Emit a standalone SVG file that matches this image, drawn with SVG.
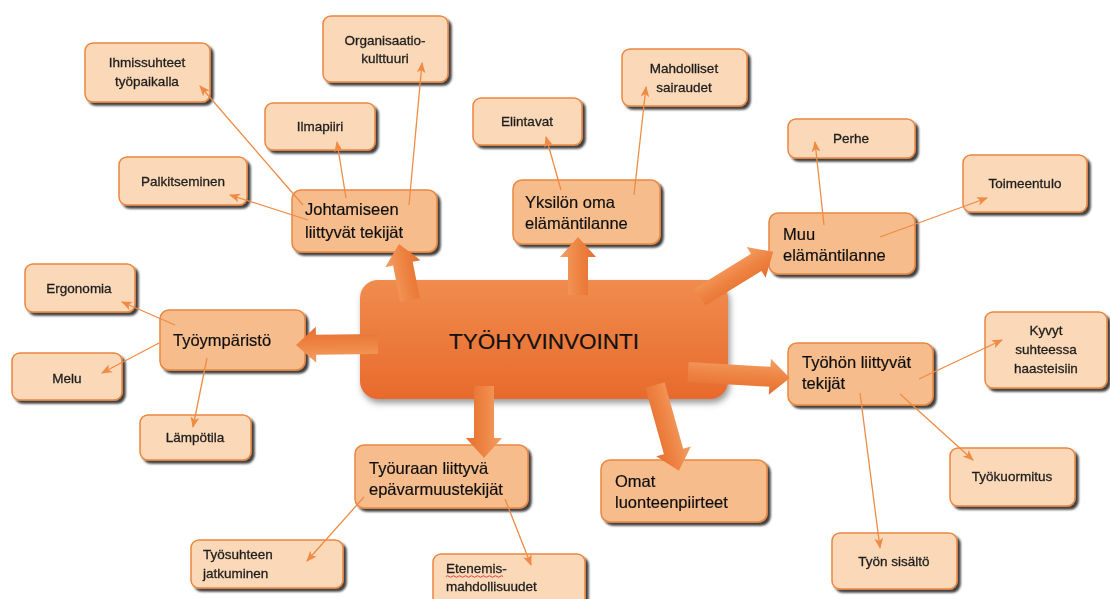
<svg xmlns="http://www.w3.org/2000/svg" width="1110" height="599" viewBox="0 0 1110 599">
<defs>
  <style>
    .sm rect{fill:#fbd8b7;stroke:#ea8741;stroke-width:1.5}
    .md rect{fill:#f7bc8b;stroke:#ea8741;stroke-width:1.5}
    .sm text{font-family:"Liberation Sans",Arial,sans-serif;font-size:13.5px;fill:#1e1e1e;stroke:#1e1e1e;stroke-width:0.3;text-anchor:middle}
    .sm text.l{text-anchor:start}
    .md text{font-family:"Liberation Sans",Arial,sans-serif;font-size:16.5px;fill:#111;stroke:#111;stroke-width:0.2}
    .thin{stroke:#ef8b45;stroke-width:1.3;fill:none;marker-end:url(#ah)}
    .big{fill:url(#ag)}
  </style>
  <filter id="sh" x="-10%" y="-10%" width="125%" height="130%">
    <feDropShadow dx="3" dy="3" stdDeviation="1.3" flood-color="#000" flood-opacity="0.75"/>
  </filter>
  <filter id="shc" x="-10%" y="-10%" width="125%" height="130%">
    <feDropShadow dx="2" dy="4" stdDeviation="3" flood-color="#555" flood-opacity="0.6"/>
  </filter>
  <linearGradient id="cg" x1="0" y1="0" x2="0" y2="1">
    <stop offset="0" stop-color="#f08c4e"/>
    <stop offset="1" stop-color="#e86a2c"/>
  </linearGradient>
  <linearGradient id="ag" x1="0" y1="0" x2="0" y2="1">
    <stop offset="0" stop-color="#f3a066"/>
    <stop offset="0.5" stop-color="#ee8443"/>
    <stop offset="1" stop-color="#e66f2f"/>
  </linearGradient>
  <marker id="ah" viewBox="0 0 10 8" refX="9" refY="4" markerWidth="11" markerHeight="9" markerUnits="userSpaceOnUse" orient="auto">
    <path d="M0,0 L10,4 L0,8 L2.5,4 z" fill="#ef8b45"/>
  </marker>
</defs>
<rect width="1110" height="599" fill="#fff"/>

<g id="center">
  <rect x="360" y="280" width="368" height="119" rx="18" fill="url(#cg)" filter="url(#shc)"/>
  <text x="544" y="349" font-family="Liberation Sans,Arial,sans-serif" font-size="22.5" text-anchor="middle" fill="#111" stroke="#111" stroke-width="0.2">TYÖHYVINVOINTI</text>
</g>

<g id="n-johtamiseen" class="md" filter="url(#sh)">
  <rect x="292" y="190" width="145" height="62" rx="9"/>
  <text x="305" y="215">Johtamiseen</text>
  <text x="305" y="238">liittyvät tekijät</text>
</g>
<g id="n-yksilon" class="md" filter="url(#sh)">
  <rect x="513" y="180" width="147" height="64" rx="9"/>
  <text x="525" y="208">Yksilön oma</text>
  <text x="525" y="229">elämäntilanne</text>
</g>
<g id="n-muu" class="md" filter="url(#sh)">
  <rect x="769" y="213" width="146" height="61" rx="9"/>
  <text x="783" y="240">Muu</text>
  <text x="783" y="261">elämäntilanne</text>
</g>
<g id="n-tyohon" class="md" filter="url(#sh)">
  <rect x="788" y="343" width="145" height="62" rx="9"/>
  <text x="802" y="368">Työhön liittyvät</text>
  <text x="802" y="389">tekijät</text>
</g>
<g id="n-omat" class="md" filter="url(#sh)">
  <rect x="601" y="460" width="166" height="62" rx="9"/>
  <text x="615" y="487">Omat</text>
  <text x="615" y="508">luonteenpiirteet</text>
</g>
<g id="n-tyouraan" class="md" filter="url(#sh)">
  <rect x="355" y="445" width="173" height="63" rx="9"/>
  <text x="369" y="474">Työuraan liittyvä</text>
  <text x="369" y="495">epävarmuustekijät</text>
</g>
<g id="n-tyoymparisto" class="md" filter="url(#sh)">
  <rect x="160" y="310" width="145" height="60" rx="9"/>
  <text x="173" y="346">Työympäristö</text>
</g>

<g id="n-ihmissuhteet" class="sm" filter="url(#sh)">
  <rect x="85" y="43" width="125" height="59" rx="8"/>
  <text x="147" y="67">Ihmissuhteet</text>
  <text x="147" y="86">työpaikalla</text>
</g>
<g id="n-organisaatio" class="sm" filter="url(#sh)">
  <rect x="323" y="16" width="125" height="66" rx="8"/>
  <text x="385" y="45">Organisaatio-</text>
  <text x="385" y="63">kulttuuri</text>
</g>
<g id="n-ilmapiiri" class="sm" filter="url(#sh)">
  <rect x="265" y="103" width="110" height="47" rx="8"/>
  <text x="320" y="131">Ilmapiiri</text>
</g>
<g id="n-palkitseminen" class="sm" filter="url(#sh)">
  <rect x="119" y="157" width="128" height="48" rx="8"/>
  <text x="183" y="186">Palkitseminen</text>
</g>
<g id="n-elintavat" class="sm" filter="url(#sh)">
  <rect x="473" y="98" width="109" height="47" rx="8"/>
  <text x="527" y="126">Elintavat</text>
</g>
<g id="n-mahdolliset" class="sm" filter="url(#sh)">
  <rect x="622" y="49" width="125" height="57" rx="8"/>
  <text x="684" y="73">Mahdolliset</text>
  <text x="684" y="92">sairaudet</text>
</g>
<g id="n-perhe" class="sm" filter="url(#sh)">
  <rect x="788" y="119" width="127" height="39" rx="8"/>
  <text x="851" y="143">Perhe</text>
</g>
<g id="n-toimeentulo" class="sm" filter="url(#sh)">
  <rect x="963" y="155" width="124" height="57" rx="8"/>
  <text x="1025" y="188">Toimeentulo</text>
</g>
<g id="n-ergonomia" class="sm" filter="url(#sh)">
  <rect x="25" y="264" width="110" height="48" rx="8"/>
  <text x="79" y="293">Ergonomia</text>
</g>
<g id="n-melu" class="sm" filter="url(#sh)">
  <rect x="12" y="353" width="110" height="47" rx="8"/>
  <text x="67" y="383">Melu</text>
</g>
<g id="n-lampotila" class="sm" filter="url(#sh)">
  <rect x="140" y="415" width="111" height="45" rx="8"/>
  <text x="195" y="442">Lämpötila</text>
</g>
<g id="n-kyvyt" class="sm" filter="url(#sh)">
  <rect x="985" y="312" width="122" height="76" rx="8"/>
  <text x="1046" y="335">Kyvyt</text>
  <text x="1046" y="354">suhteessa</text>
  <text x="1046" y="373">haasteisiin</text>
</g>
<g id="n-tyokuormitus" class="sm" filter="url(#sh)">
  <rect x="950" y="448" width="125" height="58" rx="8"/>
  <text x="1012" y="481">Työkuormitus</text>
</g>
<g id="n-tyonsisalto" class="sm" filter="url(#sh)">
  <rect x="832" y="533" width="125" height="56" rx="8"/>
  <text x="894" y="566">Työn sisältö</text>
</g>
<g id="n-tyosuhteen" class="sm" filter="url(#sh)">
  <rect x="191" y="540" width="152" height="48" rx="8"/>
  <text class="l" x="203" y="559">Työsuhteen</text>
  <text class="l" x="203" y="578">jatkuminen</text>
</g>
<g id="n-etenemis" class="sm" filter="url(#sh)">
  <rect x="433" y="554" width="152" height="60" rx="8"/>
  <text class="l" x="446" y="573">Etenemis-</text>
  <text class="l" x="446" y="591">mahdollisuudet</text>
  <path d="M446,576.5 q1.5,-1.5 3,0 t3,0 t3,0 t3,0 t3,0 t3,0 t3,0 t3,0 t3,0 t3,0 t3,0 t3,0 t3,0 t3,0 t3,0 t3,0 t3,0 t3,0 t3,0" stroke="#d33" stroke-width="0.9" fill="none"/>
</g>

<g id="connectors">
  <path class="big" transform="translate(410,300) rotate(-101.1)" d="M0,-10 L37,-10 L37,-18 L57,0 L37,18 L37,10 L0,10 Z"/>
  <path class="big" transform="translate(578,295) rotate(-90)" d="M0,-10 L38,-10 L38,-18 L58,0 L38,18 L38,10 L0,10 Z"/>
  <path class="big" transform="translate(700,297) rotate(-31.65)" d="M0,-10 L66,-10 L66,-18 L86,0 L66,18 L66,10 L0,10 Z"/>
  <path class="big" transform="translate(688,372) rotate(3.37)" d="M0,-10 L82,-10 L82,-18 L102,0 L82,18 L82,10 L0,10 Z"/>
  <path class="big" transform="translate(655,385) rotate(74.4)" d="M0,-10 L69,-10 L69,-18 L89,0 L69,18 L69,10 L0,10 Z"/>
  <path class="big" transform="translate(484,386) rotate(90)" d="M0,-10 L52,-10 L52,-18 L72,0 L52,18 L52,10 L0,10 Z"/>
  <path class="big" transform="translate(378,344) rotate(179.3)" d="M0,-10 L62,-10 L62,-18 L82,0 L62,18 L62,10 L0,10 Z"/>

  <line class="thin" x1="303" y1="205" x2="200" y2="86"/>
  <line class="thin" x1="346" y1="198" x2="337" y2="142"/>
  <line class="thin" x1="409" y1="205" x2="422" y2="63"/>
  <line class="thin" x1="308" y1="220" x2="230" y2="195"/>
  <line class="thin" x1="561" y1="190" x2="546" y2="137"/>
  <line class="thin" x1="634" y1="195" x2="646" y2="87"/>
  <line class="thin" x1="824" y1="225" x2="815" y2="142"/>
  <line class="thin" x1="880" y1="237" x2="987" y2="198"/>
  <line class="thin" x1="919" y1="379" x2="1002" y2="340"/>
  <line class="thin" x1="860" y1="393" x2="880" y2="548"/>
  <line class="thin" x1="900" y1="394" x2="973" y2="460"/>
  <line class="thin" x1="364" y1="497" x2="307" y2="561"/>
  <line class="thin" x1="505" y1="499" x2="531" y2="565"/>
  <line class="thin" x1="175" y1="325" x2="122" y2="302"/>
  <line class="thin" x1="159" y1="343" x2="102" y2="373"/>
  <line class="thin" x1="207" y1="358" x2="193" y2="427"/>
</g>
</svg>
